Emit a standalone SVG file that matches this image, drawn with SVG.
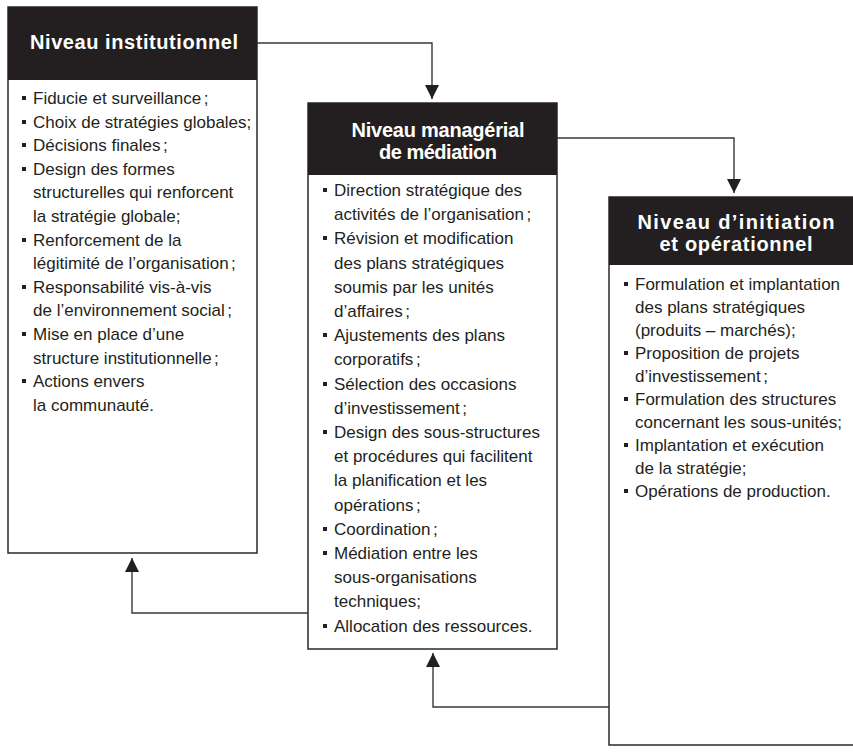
<svg xmlns="http://www.w3.org/2000/svg" xmlns:xlink="http://www.w3.org/1999/xlink" width="853" height="752" viewBox="0 0 853 752">
  <style>
    .box { fill: #ffffff; stroke: #2b2829; stroke-width: 1.5; }
    .head { fill: #231f20; }
    .title { font-family: "Liberation Sans", Arial, sans-serif; font-weight: bold; font-size: 20px; fill: #ffffff; text-anchor: middle; }
    .item { font-family: "Liberation Sans", Arial, sans-serif; font-size: 17px; fill: #231f20; }
    .link { fill: none; stroke: #3a3738; stroke-width: 1.4; }
    .bullet { fill: #231f20; }
  </style>
  <defs>
    <marker id="arrow" viewBox="0 0 14 14" refX="14" refY="7" markerWidth="14" markerHeight="14" markerUnits="userSpaceOnUse" orient="auto">
      <path d="M0,0 L14,7 L0,14 Z" fill="#231f20"/>
    </marker>
    <rect id="sq" class="bullet" width="4" height="4"/>
  </defs>

  <!-- connectors between the three levels -->
  <g id="connectors">
    <path class="link" d="M257,43 H432 V99" marker-end="url(#arrow)"/>
    <path class="link" d="M557,138 H734 V193" marker-end="url(#arrow)"/>
    <path class="link" d="M609,707 H433 V653" marker-end="url(#arrow)"/>
    <path class="link" d="M308,613 H132 V558" marker-end="url(#arrow)"/>
  </g>

  <!-- institutional level -->
  <g id="niveau-institutionnel">
    <rect class="box" x="8" y="7" width="249" height="546"/>
    <rect class="head" x="8" y="7" width="249" height="73"/>
    <text class="title" x="134" y="49" textLength="208" lengthAdjust="spacing">Niveau institutionnel</text>
    <use xlink:href="#sq" x="22" y="96"/>
    <use xlink:href="#sq" x="22" y="120"/>
    <use xlink:href="#sq" x="22" y="143"/>
    <use xlink:href="#sq" x="22" y="167"/>
    <use xlink:href="#sq" x="22" y="238"/>
    <use xlink:href="#sq" x="22" y="285"/>
    <use xlink:href="#sq" x="22" y="332"/>
    <use xlink:href="#sq" x="22" y="379"/>
    <text class="item">
      <tspan x="33" y="104">Fiducie et surveillance<tspan dx="2.5">;</tspan></tspan>
      <tspan x="33" y="128">Choix de stratégies globales;</tspan>
      <tspan x="33" y="151">Décisions finales<tspan dx="2.5">;</tspan></tspan>
      <tspan x="33" y="175">Design des formes</tspan>
      <tspan x="33" y="198">structurelles qui renforcent</tspan>
      <tspan x="33" y="222">la stratégie globale;</tspan>
      <tspan x="33" y="246">Renforcement de la</tspan>
      <tspan x="33" y="269">légitimité de l’organisation<tspan dx="2.5">;</tspan></tspan>
      <tspan x="33" y="293">Responsabilité vis-à-vis</tspan>
      <tspan x="33" y="316">de l’environnement social<tspan dx="2.5">;</tspan></tspan>
      <tspan x="33" y="340">Mise en place d’une</tspan>
      <tspan x="33" y="364">structure institutionnelle<tspan dx="2.5">;</tspan></tspan>
      <tspan x="33" y="387">Actions envers</tspan>
      <tspan x="33" y="411">la communauté.</tspan>
    </text>
  </g>

  <!-- managerial mediation level -->
  <g id="niveau-managerial">
    <rect class="box" x="308" y="103" width="249" height="546"/>
    <rect class="head" x="308" y="103" width="249" height="72"/>
    <text class="title" x="438" y="137" textLength="173" lengthAdjust="spacing">Niveau managérial</text>
    <text class="title" x="438" y="159" textLength="118" lengthAdjust="spacing">de médiation</text>
    <use xlink:href="#sq" x="323" y="188"/>
    <use xlink:href="#sq" x="323" y="236"/>
    <use xlink:href="#sq" x="323" y="333"/>
    <use xlink:href="#sq" x="323" y="382"/>
    <use xlink:href="#sq" x="323" y="430"/>
    <use xlink:href="#sq" x="323" y="527"/>
    <use xlink:href="#sq" x="323" y="551"/>
    <use xlink:href="#sq" x="323" y="624"/>
    <text class="item">
      <tspan x="334" y="196">Direction stratégique des</tspan>
      <tspan x="334" y="220">activités de l’organisation<tspan dx="2.5">;</tspan></tspan>
      <tspan x="334" y="244">Révision et modification</tspan>
      <tspan x="334" y="269">des plans stratégiques</tspan>
      <tspan x="334" y="293">soumis par les unités</tspan>
      <tspan x="334" y="317">d’affaires<tspan dx="2.5">;</tspan></tspan>
      <tspan x="334" y="341">Ajustements des plans</tspan>
      <tspan x="334" y="365">corporatifs<tspan dx="2.5">;</tspan></tspan>
      <tspan x="334" y="390">Sélection des occasions</tspan>
      <tspan x="334" y="414">d’investissement<tspan dx="2.5">;</tspan></tspan>
      <tspan x="334" y="438">Design des sous-structures</tspan>
      <tspan x="334" y="462">et procédures qui facilitent</tspan>
      <tspan x="334" y="486">la planification et les</tspan>
      <tspan x="334" y="511">opérations<tspan dx="2.5">;</tspan></tspan>
      <tspan x="334" y="535">Coordination<tspan dx="2.5">;</tspan></tspan>
      <tspan x="334" y="559">Médiation entre les</tspan>
      <tspan x="334" y="583">sous-organisations</tspan>
      <tspan x="334" y="607">techniques;</tspan>
      <tspan x="334" y="632">Allocation des ressources.</tspan>
    </text>
  </g>

  <!-- initiation and operational level -->
  <g id="niveau-operationnel">
    <rect class="box" x="609" y="197" width="254" height="548"/>
    <rect class="head" x="609" y="197" width="254" height="68"/>
    <text class="title" x="736" y="229" textLength="197" lengthAdjust="spacing">Niveau d’initiation</text>
    <text class="title" x="736" y="251" textLength="153" lengthAdjust="spacing">et opérationnel</text>
    <use xlink:href="#sq" x="624" y="282"/>
    <use xlink:href="#sq" x="624" y="351"/>
    <use xlink:href="#sq" x="624" y="397"/>
    <use xlink:href="#sq" x="624" y="443"/>
    <use xlink:href="#sq" x="624" y="489"/>
    <text class="item">
      <tspan x="635" y="290">Formulation et implantation</tspan>
      <tspan x="635" y="313">des plans stratégiques</tspan>
      <tspan x="635" y="336">(produits – marchés);</tspan>
      <tspan x="635" y="359">Proposition de projets</tspan>
      <tspan x="635" y="382">d’investissement<tspan dx="2.5">;</tspan></tspan>
      <tspan x="635" y="405">Formulation des structures</tspan>
      <tspan x="635" y="428">concernant les sous-unités;</tspan>
      <tspan x="635" y="451">Implantation et exécution</tspan>
      <tspan x="635" y="474">de la stratégie;</tspan>
      <tspan x="635" y="497">Opérations de production.</tspan>
    </text>
  </g>
</svg>
